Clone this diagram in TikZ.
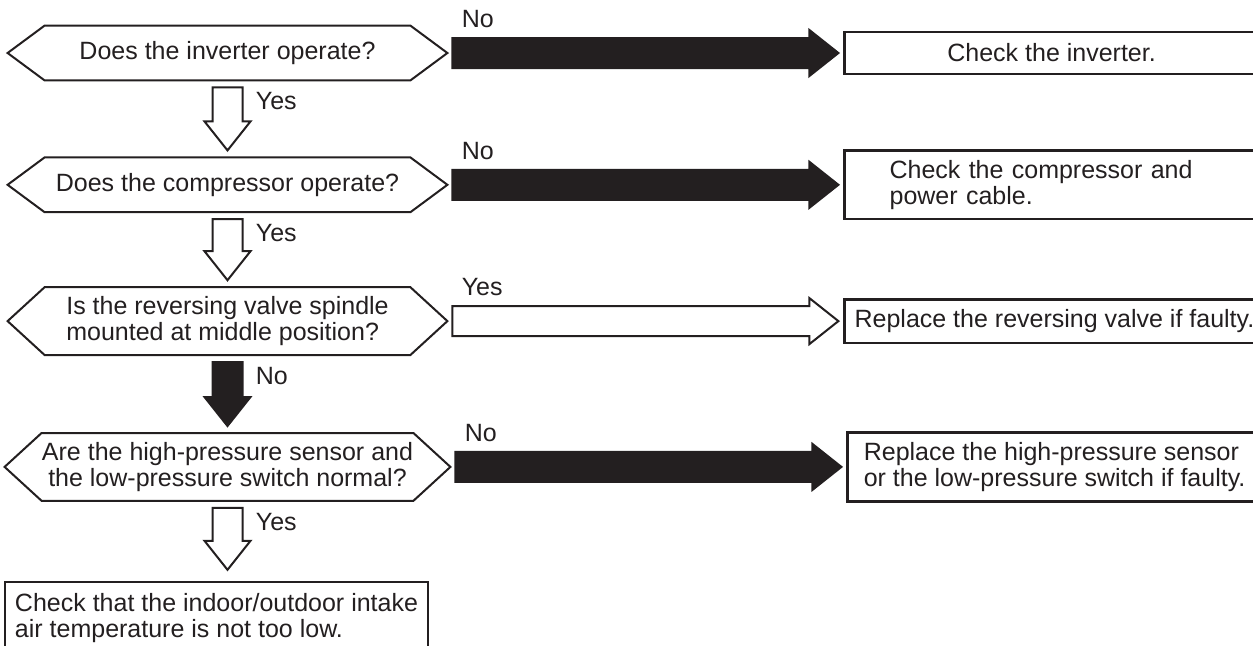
\documentclass[tikz,border=0pt]{standalone}
\usepackage{fontspec}
\setmainfont{Liberation Sans}
\usetikzlibrary{positioning, calc}
\definecolor{ink}{RGB}{35,31,32}

\begin{document}
\begin{tikzpicture}[
            x = 0.5pt, y = -0.5pt, % one unit = one pixel of the sheet
            font = \fontsize{12.5}{12.8}\selectfont,
            text = ink,
            node distance = 38.5pt % gap between the questions
        ]

        \tikzstyle{question}=[
            inner sep = 0pt,
            minimum width = 182.5pt,
            minimum height = 27pt,
            align = center
        ]
        \tikzstyle{answer}=[
            draw = ink,
            line width = 1.2pt,
            inner sep = 5pt,
            minimum width = 207pt,
            minimum height = 21pt
        ]
        \tikzstyle{tag}=[inner sep = 0pt, anchor = west]
        % fat arrows, left to right and top to bottom
        \tikzstyle{hfat}=[draw = ink, line width = 1pt, to path = {let \p1 = (\tikztostart), \p2 = (\tikztotarget) in
            (\x1,\y1+7.5pt) -- (\x2-14.5pt,\y1+7.5pt) -- (\x2-14.5pt,\y1+11.5pt) -- (\x2,\y1)
            -- (\x2-14.5pt,\y1-11.5pt) -- (\x2-14.5pt,\y1-7.5pt) -- (\x1,\y1-7.5pt) -- cycle}]
        \tikzstyle{vfat}=[draw = ink, line width = 1pt, to path = {let \p1 = (\tikztostart), \p2 = (\tikztotarget) in
            (\x1-7.5pt,\y1) -- (\x1-7.5pt,\y2+14.5pt) -- (\x1-11.5pt,\y2+14.5pt) -- (\x1,\y2)
            -- (\x1+11.5pt,\y2+14.5pt) -- (\x1+7.5pt,\y2+14.5pt) -- (\x1+7.5pt,\y1) -- cycle}]

        \useasboundingbox (0,0) rectangle (1253,645);

        \node[question] (q1) at (227.5,53) {Does the inverter operate?};
        \node[question] (q2) [below = of q1] {Does the compressor operate?};
        \node[question, minimum height = 33.5pt, align = left] (q3) [below = 37.5pt of q2] {Is the reversing valve spindle\\mounted at middle position?};
        \node[question, minimum height = 33.5pt] (q4) [below = 39pt of q3] {Are the high-pressure sensor and\\the low-pressure switch normal?};

        \node[answer] (a1) [right = 216.5pt of q1] {Check the inverter.};
        \node[answer, minimum height = 32.5pt, inner xsep = 22.5pt, text width = 162pt, align = left] (a2) [right = 216.5pt of q2] {Check the compressor and\\power cable.};
        \node[answer] (a3) [right = 216.5pt of q3] {Replace the reversing valve if faulty.};
        \node[answer, minimum height = 33.5pt, align = left] (a4) [right = 216.5pt of q4] {Replace the high-pressure sensor\\or the low-pressure switch if faulty.};
        \node[answer, minimum width = 201.5pt, minimum height = 36pt, align = left] (b) [below = 40pt of q4, xshift = -5.5pt] {Check that the indoor/outdoor intake\\air temperature is not too low.};

        \foreach \q in {q1,q2,q3,q4}
            \draw[ink, line width = 1pt] (\q.north west) -- (\q.north east) -- ([xshift = 18.5pt]\q.east)
                -- (\q.south east) -- (\q.south west) -- ([xshift = -18.5pt]\q.west) -- cycle;

        \draw[hfat, fill = ink] ([xshift = 21pt]q1.east) to ([xshift = -2.5pt]a1.west);
        \draw[hfat, fill = ink] ([xshift = 21pt]q2.east) to ([xshift = -2.5pt]a2.west);
        \draw[hfat, fill = white] ([xshift = 21pt]q3.east) to ([xshift = -2.5pt]a3.west);
        \draw[hfat, fill = ink] ([xshift = 21pt]q4.east) to ([xshift = -2.5pt]a4.west);

        \draw[vfat, fill = white] ([yshift = -3.5pt]q1.south) to ([yshift = 3.5pt]q2.north);
        \draw[vfat, fill = white] ([yshift = -3.5pt]q2.south) to ([yshift = 3.5pt]q3.north);
        \draw[vfat, fill = ink] ([yshift = -3.5pt]q3.south) to ([yshift = 3.5pt]q4.north);
        \draw[vfat, fill = white] ([yshift = -3.5pt]q4.south) to ([yshift = 5.5pt]b.north);

        \node[tag] (n1) at ([shift = {(25.5pt,17pt)}]q1.east) {No};
        \node[tag] (n2) at ([shift = {(25.5pt,17pt)}]q2.east) {No};
        \node[tag] (y3) at ([shift = {(25.5pt,17pt)}]q3.east) {Yes};
        \node[tag] (n4) at ([shift = {(25.5pt,17pt)}]q4.east) {No};

        \node[tag] (y1) at ([shift = {(14pt,-10.5pt)}]q1.south) {Yes};
        \node[tag] (y2) at ([shift = {(14pt,-10.5pt)}]q2.south) {Yes};
        \node[tag] (n3) at ([shift = {(14pt,-10.5pt)}]q3.south) {No};
        \node[tag] (y4) at ([shift = {(14pt,-10.5pt)}]q4.south) {Yes};
    \end{tikzpicture}
\end{document}
